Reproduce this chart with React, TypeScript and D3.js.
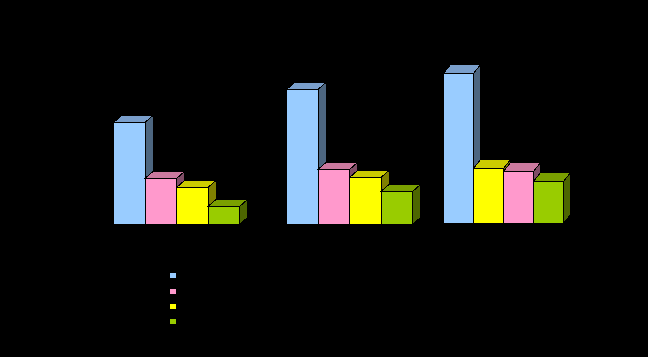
import React from "react";
import * as d3 from "d3";

const seriesNames = ["blue", "pink", "yellow", "green"];
const faceColors = ["#99CCFF", "#FF99CC", "#FFFF00", "#99CC00"];
const topColors = ["#7A9FCC", "#CC7A9F", "#CCCC00", "#7A9F00"];
const sideColors = ["#4D6680", "#804D66", "#808000", "#4D6600"];

const group1Values = [102, 46, 37, 18];
const group2Values = [135, 55, 47, 33];
const group3Values = [150, 52, 55, 42];
const groupValues = [group1Values, group2Values, group3Values];

const groupLayout = [
  { x0: 113.5, x1: 239.5, base: 224.5, dx: 8, dy: 7 },
  { x0: 286.5, x1: 412.5, base: 224.5, dx: 8, dy: 7 },
  { x0: 443.5, x1: 563.5, base: 223.5, dx: 7, dy: 9 },
];

const legendX = 170;
const legendYs = [273, 289, 304, 319];
const legendW = 6;
const legendH = 5;

export default function App() {
  const maxValue = 150;
  return (
    <svg
      width={648}
      height={357}
      style={{ position: "fixed", left: 0, top: 0, display: "block", background: "#000" }}
    >
      <rect width={648} height={357} fill="#000" />
      {groupValues.map((vals, g) => {
        const lay = groupLayout[g];
        const y = d3.scaleLinear().domain([0, maxValue]).range([lay.base, lay.base - maxValue]);
        const order = d3.range(vals.length).sort((a, b) => d3.descending(vals[a], vals[b]));
        const x = d3.scaleBand<number>().domain(d3.range(order.length)).range([lay.x0, lay.x1]);
        const w = x.bandwidth();
        return (
          <g key={g} stroke="#000" strokeWidth={1} strokeLinejoin="miter" shapeRendering="crispEdges">
            {order.map((s, i) => {
              const xl = x(i)!;
              const xr = xl + w;
              const top = y(vals[s]);
              const { dx, dy, base } = lay;
              const side = d3.path();
              side.moveTo(xr, top);
              side.lineTo(xr + dx, top - dy);
              side.lineTo(xr + dx, base - dy);
              side.lineTo(xr, base);
              side.closePath();
              const roof = d3.path();
              roof.moveTo(xl, top);
              roof.lineTo(xl + dx, top - dy);
              roof.lineTo(xr + dx, top - dy);
              roof.lineTo(xr, top);
              roof.closePath();
              return (
                <g key={s}>
                  <path d={side.toString()} fill={sideColors[s]} />
                  <path d={roof.toString()} fill={topColors[s]} />
                  <rect x={xl} y={top} width={w} height={base - top} fill={faceColors[s]} />
                </g>
              );
            })}
          </g>
        );
      })}
      {seriesNames.map((name, i) => (
        <rect key={name} x={legendX} y={legendYs[i]} width={legendW} height={legendH} fill={faceColors[i]} />
      ))}
    </svg>
  );
}
